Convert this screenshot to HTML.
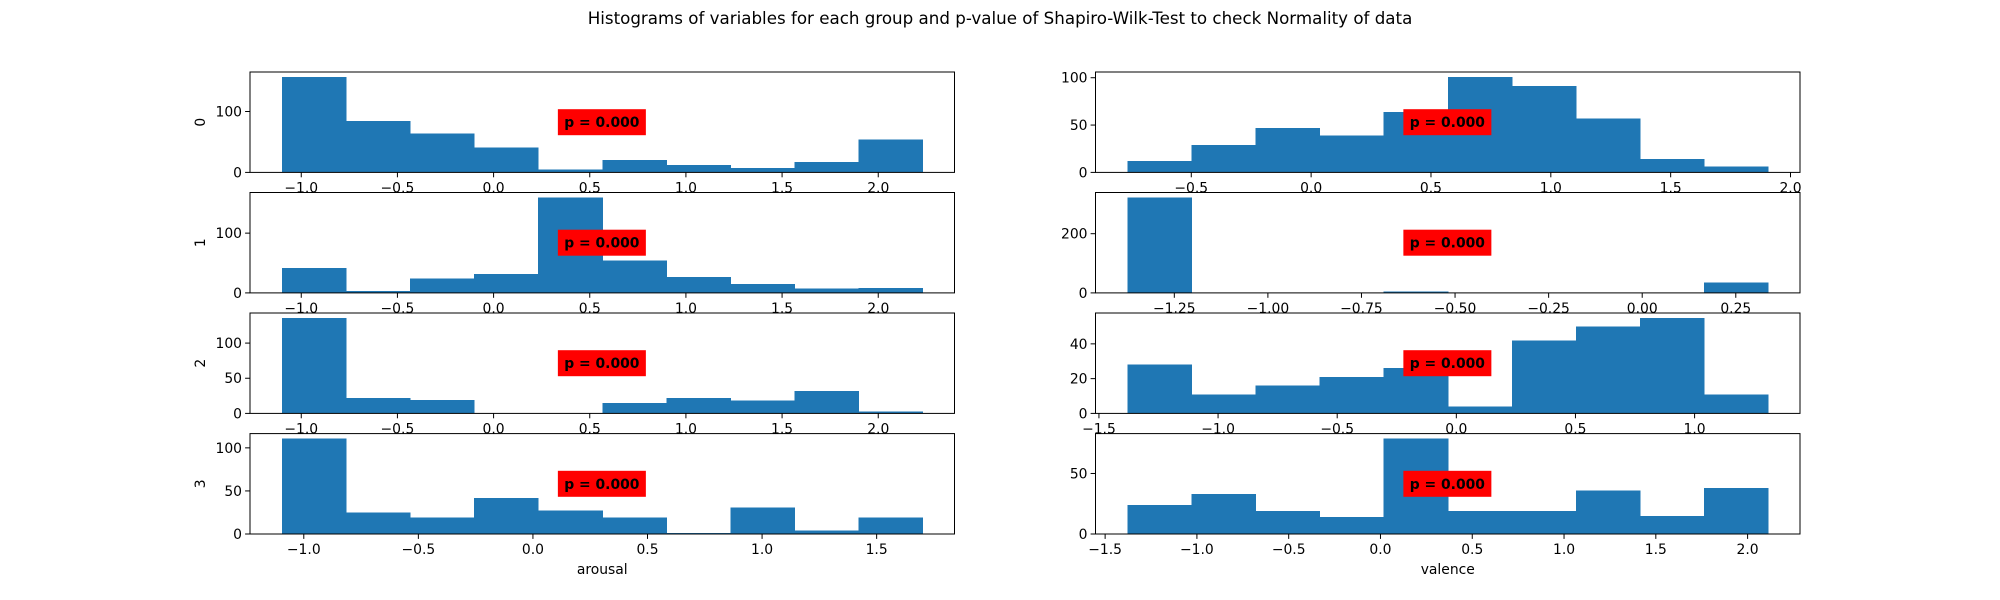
<!DOCTYPE html>
<html><head><meta charset="utf-8">
<style>
html,body{margin:0;padding:0;background:#fff;}
svg{display:block;font-family:"DejaVu Sans","Liberation Sans",sans-serif;}
</style></head>
<body>
<svg id="fig" width="2000" height="600" viewBox="0 0 2000 600" xmlns="http://www.w3.org/2000/svg">
<rect width="2000" height="600" fill="#fff"/>
<text x="1000" y="24" text-anchor="middle" font-size="16.7">Histograms of variables for each group and p-value of Shapiro-Wilk-Test to check Normality of data</text>
</svg>
<script>
// arousal data
const arousalCounts0 = [157, 84, 64, 41, 5, 20, 12, 7, 17, 54];
const arousalCounts1 = [42, 3, 24, 32, 160, 54, 27, 15, 7, 8];
const arousalCounts2 = [136, 22, 19, 0, 0, 15, 22, 18, 32, 3];
const arousalCounts3 = [111, 25, 19, 42, 27, 19, 1, 31, 4, 19];
const arousalRanges = [[-1.1, 2.23], [-1.1, 2.23], [-1.1, 2.23], [-1.095, 1.70]];
// valence data
const valenceCounts0 = [12, 29, 47, 39, 64, 101, 91, 57, 14, 6];
const valenceCounts1 = [323, 0, 2, 0, 4, 0, 0, 0, 0, 35];
const valenceCounts2 = [28, 11, 16, 21, 26, 4, 42, 50, 55, 11];
const valenceCounts3 = [24, 33, 19, 14, 79, 19, 19, 36, 15, 38];
const valenceRanges = [[-0.766, 1.906], [-1.375, 0.336], [-1.38, 1.308], [-1.378, 2.111]];
// tick labels
const arousalXTicks = [[-1,-0.5,0,0.5,1,1.5,2],[-1,-0.5,0,0.5,1,1.5,2],[-1,-0.5,0,0.5,1,1.5,2],[-1,-0.5,0,0.5,1,1.5]];
const valenceXTicks = [[-0.5,0,0.5,1,1.5,2],[-1.25,-1,-0.75,-0.5,-0.25,0,0.25],[-1.5,-1,-0.5,0,0.5,1],[-1.5,-1,-0.5,0,0.5,1,1.5,2]];
const arousalYTicks = [[0,100],[0,100],[0,50,100],[0,50,100]];
const valenceYTicks = [[0,50,100],[0,200],[0,20,40],[0,50]];
const groupLabels = ["0","1","2","3"];
const pValues = ["0.000","0.000","0.000","0.000"];

const NS = "http://www.w3.org/2000/svg";
const svg = document.getElementById('fig');
function mk(tag, attrs, parent){
  const e = document.createElementNS(NS, tag);
  for (const k in attrs) e.setAttribute(k, attrs[k]);
  (parent||svg).appendChild(e);
  return e;
}
function fmt(v, dec){
  const s = Math.abs(v).toFixed(dec);
  return (v < 0 ? "\u2212" : "") + s;
}
const axL = [250, 1095.5], axW = 704.5, axH = 100.4, axTops = [72, 192.5, 313, 433.6];

function panel(col, row, counts, range, xticks, yticks, dec){
  const L = axL[col], T = axTops[row], B = T + axH;
  const span = range[1] - range[0];
  const xmin = range[0] - span*0.05, xmax = range[1] + span*0.05;
  const ymax = Math.max(...counts) * 1.05;
  const X = v => L + (v - xmin) / (xmax - xmin) * axW;
  const Y = v => B - v / ymax * axH;
  const g = mk('g', {});
  
  
  const bw = span / counts.length;
  counts.forEach((c, i) => {
    const x0 = X(range[0] + i*bw), x1 = X(range[0] + (i+1)*bw);
    const r = mk('rect', {x: x0, y: Y(c), width: x1 - x0 + 0.5, height: B - Y(c), fill: '#1f77b4', 'shape-rendering': 'crispEdges'}, g);
    
    
  });
  const fr = mk('rect', {x: L, y: T, width: axW, height: axH, fill: 'none', stroke: '#000', 'stroke-width': 1}, g);
  
  
  xticks.forEach(t => {
    const x = X(t);
    mk('line', {x1: x, x2: x, y1: B, y2: B + 4.9, stroke: '#000', 'stroke-width': 1}, g);
    const tx = mk('text', {x: x, y: B + 20, 'text-anchor': 'middle', 'font-size': 13.9}, g);
    tx.textContent = fmt(t, dec);
    
    
  });
  yticks.forEach(t => {
    const y = Y(t);
    mk('line', {x1: L - 4.9, x2: L, y1: y, y2: y, stroke: '#000', 'stroke-width': 1}, g);
    const ty = mk('text', {x: L - 8, y: y + 5, 'text-anchor': 'end', 'font-size': 13.9}, g);
    ty.textContent = String(t);
    
    
  });
  const pb = mk('rect', {x: L + axW*0.437, y: T + axH/2 - 13, width: 88, height: 26, fill: '#ff0000'}, g);
  
  
  const pt = mk('text', {x: L + axW*0.437 + 44, y: T + axH/2 + 5, 'text-anchor': 'middle', 'font-size': 13.9, 'font-weight': 'bold'}, g);
  pt.textContent = 'p = ' + pValues[row];
  
  
  if (col === 0) {
    const yl = mk('text', {x: 0, y: 0, 'text-anchor': 'middle', 'font-size': 13.9, transform: 'translate(205,' + (T + axH/2) + ') rotate(-90)'}, g);
    yl.textContent = groupLabels[row];
    
    
  }
}
const aC = [arousalCounts0, arousalCounts1, arousalCounts2, arousalCounts3];
const vC = [valenceCounts0, valenceCounts1, valenceCounts2, valenceCounts3];
for (let r = 0; r < 4; r++) {
  panel(0, r, aC[r], arousalRanges[r], arousalXTicks[r], arousalYTicks[r], 1);
  panel(1, r, vC[r], valenceRanges[r], valenceXTicks[r], valenceYTicks[r], r === 1 ? 2 : 1);
}
const xa = mk('text', {x: axL[0] + axW/2, y: 574, 'text-anchor': 'middle', 'font-size': 13.9});
xa.textContent = 'arousal';


const xv = mk('text', {x: axL[1] + axW/2, y: 574, 'text-anchor': 'middle', 'font-size': 13.9});
xv.textContent = 'valence';


</script>
</body></html>
